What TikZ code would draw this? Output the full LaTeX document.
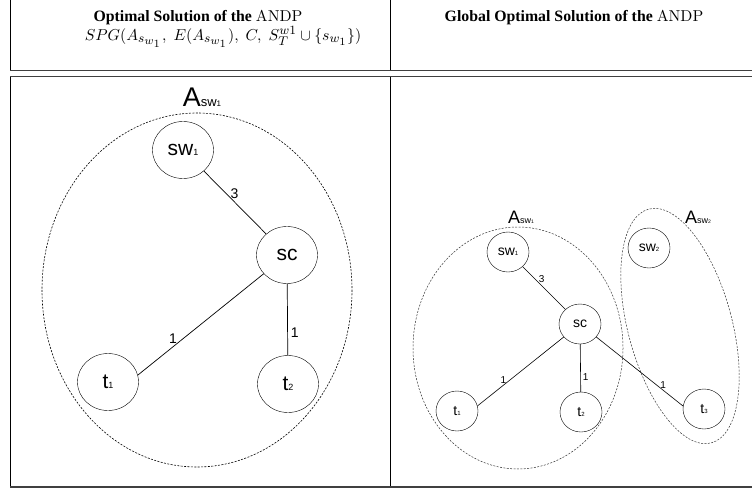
\documentclass[tikz,border=0pt]{standalone}
\usepackage[no-math]{fontspec}
\setmainfont{Liberation Serif}
\newfontfamily\helv{Liberation Sans}
\usetikzlibrary{shapes.geometric}
\DeclareMathSizes{10}{10}{8.5}{7}
\newcommand\fs[2]{{\fontsize{#1}{#1}\selectfont #2}}

\begin{document}
\begin{tikzpicture}[x=1pt,y=-1pt,
  every node/.style={inner sep=0pt},
  head/.style={font=\bfseries,scale=1.58},
  bigvtx/.style={draw,ellipse,minimum width=61,minimum height=57,font=\helv\fontsize{21}{21}\selectfont},
  smallvtx/.style={draw,ellipse,minimum width=42,minimum height=40,font=\helv\fontsize{14}{14}\selectfont},
  bigw/.style={font=\helv\fontsize{14}{14}\selectfont},
  smallw/.style={font=\helv\fontsize{10}{10}\selectfont},
  area/.style={draw,dash pattern=on 2pt off 1.4pt,line width=0.6pt},
  rule/.style={line width=1.1pt,black!75}]
  \useasboundingbox (0,0) rectangle (752,492);

  % table
  \draw[line width=0.9pt] (10.5,0) -- (10.5,70) (390,0) -- (390,70)
    (10.5,77) -- (10.5,487) (390,77) -- (390,487);
  \draw[rule] (10,70.5) -- (752,70.5) (10,76.5) -- (752,76.5) (10,487) -- (752,487);
  \node[head] (hl) at (198,18) {Optimal Solution of the $\mathrm{ANDP}$};
  \node[scale=1.58] (hm) at (223,37) {$SPG(A_{s_{w_1}},\; E(A_{s_{w_1}}),\; C,\; S_T^{w1} \cup \{s_{w_1}\})$};
  \node[head] (hr) at (574,18) {Global Optimal Solution of the $\mathrm{ANDP}$};

  % left panel
  \draw[area] (197,290) ellipse (155 and 177);
  \node[font=\helv\fontsize{27}{27}\selectfont] (al) at (202,97) {A\fs{13}{sw}\fs{8}{1}};
  \node[bigvtx] (sw) at (183,150) {sw\fs{9}{1}};
  \node[bigvtx] (sc) at (287,255) {sc};
  \node[bigvtx] (ta) at (108,382) {t\fs{9}{1}};
  \node[bigvtx] (tb) at (288,384) {t\fs{9}{2}};
  \draw[line width=0.7pt] (sw) -- node[bigw,pos=0.36,right=4pt] {3} (sc);
  \draw[line width=0.7pt] (sc) -- node[bigw,pos=0.72,above=3pt] {1} (ta.13);
  \draw[line width=0.7pt] (sc) -- node[bigw,pos=0.68,right=3pt] {1} (tb);

  % right panel
  \draw[area,line width=0.5pt,black!80] (518,348) ellipse (105 and 121);
  \draw[area,line width=0.5pt,black!80,rotate around={15:(680,326)}] (680,326) ellipse (52 and 121);
  \node[font=\helv\fontsize{18}{18}\selectfont] (ar) at (521,217) {A\fs{9}{sw}\fs{5}{1}};
  \node[font=\helv\fontsize{18}{18}\selectfont] (ar2) at (698,217) {A\fs{9}{sw}\fs{5}{2}};
  \node[smallvtx] (rsw) at (508,252) {sw\fs{6}{1}};
  \node[smallvtx] (rsw2) at (649,248) {sw\fs{6}{2}};
  \node[smallvtx] (rsc) at (580,324) {sc};
  \node[smallvtx] (rta) at (457,411) {t\fs{6}{1}};
  \node[smallvtx] (rtb) at (581,412) {t\fs{6}{2}};
  \node[smallvtx] (rtc) at (704,409) {t\fs{6}{3}};
  \draw[line width=0.6pt] (rsw) -- node[smallw,pos=0.28,right=4pt] {3} (rsc);
  \draw[line width=0.6pt] (rsc) -- node[smallw,pos=0.7,above=1pt] {1} (rta.14);
  \draw[line width=0.6pt] (rsc) -- node[smallw,pos=0.69,right=2pt] {1} (rtb);
  \draw[line width=0.6pt] (rsc) -- node[smallw,pos=0.77,above=1pt] {1} (rtc.172);
\end{tikzpicture}
\end{document}
